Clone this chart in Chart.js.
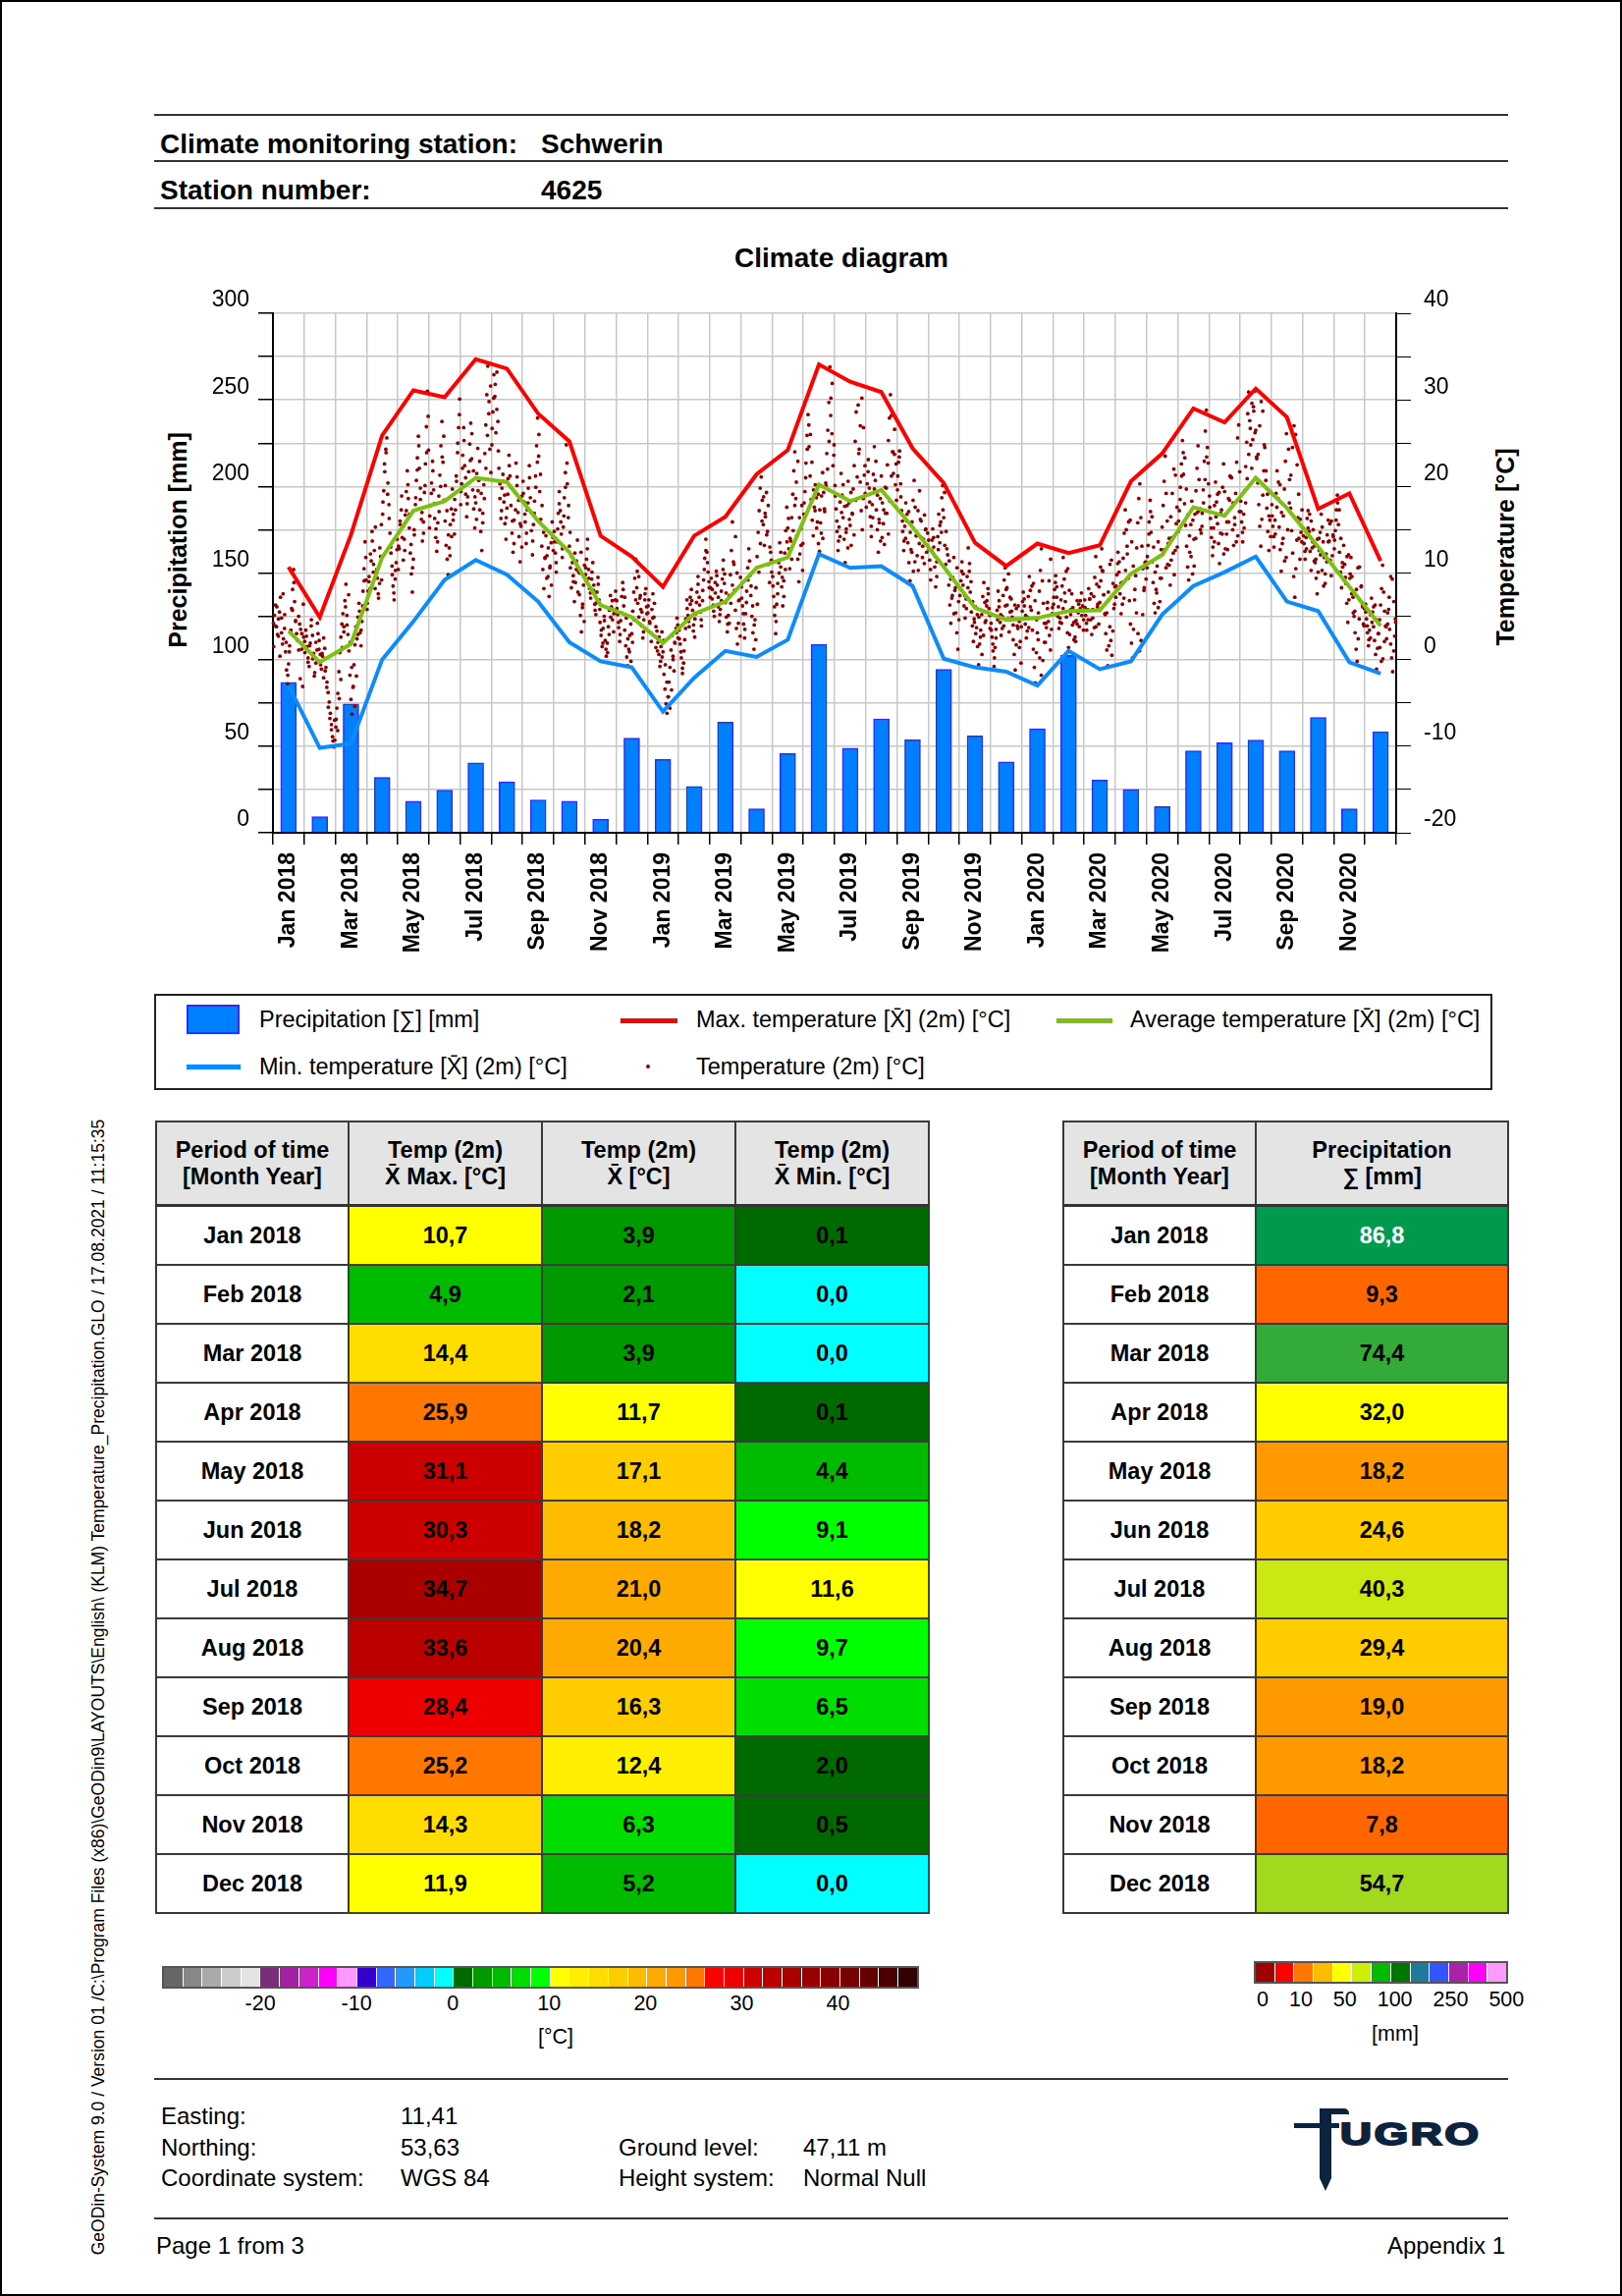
<!DOCTYPE html>
<html>
<head>
<meta charset="utf-8">
<title>Climate diagram - Schwerin</title>
<script src="https://cdn.jsdelivr.net/npm/chart.js@4.4.1/dist/chart.umd.min.js"></script>
<style>
  html, body { margin: 0; padding: 0; background: #fff; }
  body { width: 1652px; height: 2338px; position: relative; overflow: hidden;
         font-family: "Liberation Sans", Arial, sans-serif; color: #000; }
  .frame { position: absolute; left: 0; top: 0; width: 1648px; height: 2334px; border: 2px solid #000; }
  .hline { position: absolute; left: 157px; width: 1379px; height: 2px; background: #333; }
  .t { position: absolute; white-space: nowrap; line-height: 1; transform: translateY(-50%); }
  .tc { position: absolute; white-space: nowrap; line-height: 1; transform: translate(-50%, -50%); }
  .rot { position: absolute; white-space: nowrap; line-height: 1; transform: translate(-50%, -50%) rotate(-90deg); }
  .hdr { font-size: 28px; font-weight: bold; }
  .foot { font-size: 24px; }
  #chartBox { position: absolute; left: 150px; top: 230px; width: 1440px; height: 760px; }
  #legend { position: absolute; left: 157px; top: 1012px; width: 1359px; height: 94px; border: 2px solid #222; }
  .lg { font-size: 23.5px; }
  table.data { position: absolute; border-collapse: collapse; table-layout: fixed; }
  table.data th, table.data td { border: 2px solid #3a3a3a; text-align: center; font-weight: bold;
         font-size: 23.5px; padding: 0; }
  table.data th { background: #e4e4e4; height: 83px; line-height: 27px; border-bottom: 3px solid #333; }
  table.data td { height: 58px; }
  .bar { position: absolute; display: flex; border: 2px solid #555; }
  .bar div { height: 100%; border-right: 1px solid #fff; box-sizing: border-box; }
  .bar div:last-child { border-right: none; }
  .cb { font-size: 21.5px; }
</style>
</head>
<body>
<div class="frame"></div>

<div class="rot" style="left:101px; top:1718px; font-size:17.5px;">GeODin-System 9.0 / Version 01 /C:\Program Files (x86)\GeODin9\LAYOUTS\English\ (KLM) Temperature_Precipitation.GLO / 17.08.2021 / 11:15:35</div>

<div class="hline" style="top:116px"></div>
<div class="t hdr" style="left:163px; top:147px">Climate monitoring station:</div>
<div class="t hdr" style="left:551px; top:147px">Schwerin</div>
<div class="hline" style="top:163px"></div>
<div class="t hdr" style="left:163px; top:194px">Station number:</div>
<div class="t hdr" style="left:551px; top:194px">4625</div>
<div class="hline" style="top:211px"></div>

<div class="tc" style="left:857px; top:263px; font-size:28px; font-weight:bold;">Climate diagram</div>
<div class="rot" style="left:181px; top:550px; font-size:25px; font-weight:bold;">Precipitation [mm]</div>
<div class="rot" style="left:1533px; top:557px; font-size:25px; font-weight:bold;">Temperature [°C]</div>

<div id="chartBox"><canvas id="climate" width="1440" height="760"></canvas></div>

<div id="legend"></div>
<div style="position:absolute; left:190px; top:1023px; width:50px; height:26px; background:#0080ff; border:2px solid #2b2bff;"></div>
<div class="t lg" style="left:264px; top:1039px">Precipitation [∑] [mm]</div>
<div style="position:absolute; left:632px; top:1037px; width:58px; height:5px; background:#ff0000;"></div>
<div class="t lg" style="left:709px; top:1039px">Max. temperature [X̄] (2m) [°C]</div>
<div style="position:absolute; left:1076px; top:1037px; width:57px; height:5px; background:#7cc111;"></div>
<div class="t lg" style="left:1151px; top:1039px">Average temperature [X̄] (2m) [°C]</div>
<div style="position:absolute; left:190px; top:1084px; width:55px; height:5px; background:#0a8cff;"></div>
<div class="t lg" style="left:264px; top:1087px">Min. temperature [X̄] (2m) [°C]</div>
<div style="position:absolute; left:658px; top:1084px; width:4px; height:4px; border-radius:2px; background:#8b0000;"></div>
<div class="t lg" style="left:709px; top:1087px">Temperature (2m) [°C]</div>

<table class="data" id="tempTable" style="left:158px; top:1141px; width:787px;">
  <colgroup><col style="width:196px"><col style="width:197px"><col style="width:197px"><col style="width:197px"></colgroup>
  <thead><tr>
    <th>Period of time<br>[Month Year]</th>
    <th>Temp (2m)<br>X̄ Max. [°C]</th>
    <th>Temp (2m)<br>X̄ [°C]</th>
    <th>Temp (2m)<br>X̄ Min. [°C]</th>
  </tr></thead>
  <tbody></tbody>
</table>

<table class="data" id="precTable" style="left:1082px; top:1141px; width:453px;">
  <colgroup><col style="width:196px"><col style="width:257px"></colgroup>
  <thead><tr>
    <th>Period of time<br>[Month Year]</th>
    <th>Precipitation<br>∑ [mm]</th>
  </tr></thead>
  <tbody></tbody>
</table>

<div class="bar" id="tempBar" style="left:165px; top:2002px; width:767px; height:19px;"></div>
<div id="tempBarLabels"></div>
<div class="tc cb" style="left:566px; top:2075px">[°C]</div>

<div class="bar" id="precBar" style="left:1277px; top:1997px; width:255px; height:19px;"></div>
<div class="t cb" style="left:1280px; top:2037px; word-spacing:15px;">0 10 50 100 250 500</div>
<div class="tc cb" style="left:1421px; top:2072px">[mm]</div>

<div class="hline" style="top:2116px"></div>
<div class="t foot" style="left:164px; top:2155px">Easting:</div>
<div class="t foot" style="left:408px; top:2155px">11,41</div>
<div class="t foot" style="left:164px; top:2187px">Northing:</div>
<div class="t foot" style="left:408px; top:2187px">53,63</div>
<div class="t foot" style="left:164px; top:2218px">Coordinate system:</div>
<div class="t foot" style="left:408px; top:2218px">WGS 84</div>
<div class="t foot" style="left:630px; top:2187px">Ground level:</div>
<div class="t foot" style="left:818px; top:2187px">47,11 m</div>
<div class="t foot" style="left:630px; top:2218px">Height system:</div>
<div class="t foot" style="left:818px; top:2218px">Normal Null</div>

<div style="position:absolute; left:1318px; top:2147px; width:190px; height:86px;">
  <div style="position:absolute; left:26px; top:1px; width:12px; height:70px; background:#0c2340;"></div>
  <div style="position:absolute; left:26px; top:0; width:30px; height:6px; background:#0c2340; border-top-right-radius:5px;"></div>
  <div style="position:absolute; left:0; top:15px; width:46px; height:5px; background:#0c2340;"></div>
  <div style="position:absolute; left:26px; top:71px; width:0; height:0; border-left:6px solid transparent; border-right:6px solid transparent; border-top:13px solid #0c2340;"></div>
  <div style="position:absolute; left:47px; top:15px; font-size:32px; line-height:23px; height:24px; font-weight:bold; color:#0c2340; -webkit-text-stroke:2px #0c2340; transform-origin:0 0; transform:scaleX(1.38); letter-spacing:2px;">UGRO</div>
</div>

<div class="hline" style="top:2258px"></div>
<div class="t foot" style="left:159px; top:2287px">Page 1 from 3</div>
<div class="t foot" style="left:1533px; top:2287px; transform:translate(-100%,-50%)">Appendix 1</div>

<script>
// ---- monthly values ----
const months = [
  'Jan 2018', 'Feb 2018', 'Mar 2018', 'Apr 2018', 'May 2018', 'Jun 2018',
  'Jul 2018', 'Aug 2018', 'Sep 2018', 'Oct 2018', 'Nov 2018', 'Dec 2018',
  'Jan 2019', 'Feb 2019', 'Mar 2019', 'Apr 2019', 'May 2019', 'Jun 2019',
  'Jul 2019', 'Aug 2019', 'Sep 2019', 'Oct 2019', 'Nov 2019', 'Dec 2019',
  'Jan 2020', 'Feb 2020', 'Mar 2020', 'Apr 2020', 'May 2020', 'Jun 2020',
  'Jul 2020', 'Aug 2020', 'Sep 2020', 'Oct 2020', 'Nov 2020', 'Dec 2020'
];
const precipitation = [86.8, 9.3, 74.4, 32.0, 18.2, 24.6, 40.3, 29.4, 19.0, 18.2, 7.8, 54.7,
  42.4, 26.7, 63.9, 13.8, 45.8, 108.8, 48.8, 65.8, 53.7, 94.4, 56.0, 40.9,
  60.0, 102.5, 30.5, 25.0, 15.1, 47.3, 52.0, 53.5, 47.3, 66.6, 13.8, 58.3];
const tempMax = [10.7, 4.9, 14.4, 25.9, 31.1, 30.3, 34.7, 33.6, 28.4, 25.2, 14.3, 11.9,
  8.4, 14.3, 16.5, 21.4, 24.2, 34.1, 32.1, 30.9, 24.4, 20.4, 13.5, 10.8,
  13.4, 12.3, 13.2, 20.6, 23.8, 29.0, 27.4, 31.3, 28.0, 17.4, 19.2, 11.4];
const tempAvg = [3.3, -0.3, 1.8, 11.8, 17.2, 18.3, 21.0, 20.5, 16.0, 12.4, 6.3, 4.9,
  1.9, 5.3, 6.7, 10.6, 11.8, 20.2, 18.3, 19.6, 15.3, 10.7, 6.0, 4.6,
  4.8, 5.6, 5.7, 9.9, 12.1, 17.6, 16.6, 21.0, 17.5, 13.0, 8.4, 3.9];
const tempMin = [-3.0, -10.2, -9.7, 0.0, 4.4, 9.2, 11.5, 9.8, 6.7, 2.0, -0.2, -0.9,
  -6.0, -2.1, 1.0, 0.3, 2.3, 12.2, 10.6, 10.8, 8.5, 0.1, -0.9, -1.4,
  -3.0, 1.0, -1.1, -0.2, 5.2, 8.5, 10.1, 11.9, 6.7, 5.6, -0.3, -1.6];

// temperature readings, one string per month (estimated from the dot cloud)
const daily2018 = [
  '4.2 5.1 6.3 3.8 2.9 4.7 5.5 7.2 3.1 1.8 2.4 3.6 0.9 -1.2 -2.8 -0.5 1.6 3.3 5.9 8.1 10.4 6.7 4.4 3.0 2.2 5.0 4.1 3.5 1.2 -3.1 2.6',
  '2.1 3.4 1.5 0.2 -0.8 1.9 4.6 2.8 0.7 -1.5 -0.4 1.1 3.0 2.2 0.6 -1.1 0.4 2.5 1.3 -0.9 -2.6 -3.8 -4.9 -6.2 -7.5 -8.9 -10.1 -9.3',
  '-7.8 -5.6 -3.9 -1.4 0.8 2.6 4.1 5.3 3.2 6.8 8.7 5.1 2.9 1.0 -1.8 -4.6 -6.3 -3.2 -0.6 1.7 3.8 2.4 4.9 6.5 3.1 1.6 4.4 7.9 10.5 13.6 9.2',
  '5.8 7.9 9.6 8.2 11.4 13.7 10.1 12.6 15.3 10.0 9.4 7.1 8.8 11.9 9.2 16.8 19.5 21.7 24.3 25.6 20.4 17.9 14.6 12.3 10.8 8.5 6.9 9.3 11.2 13.9',
  '10.4 12.8 15.6 17.3 14.1 11.5 13.9 16.7 19.4 21.8 18.6 15.2 12.3 9.9 7.8 11.6 14.4 17.9 20.7 23.3 25.8 22.1 18.5 16.2 13.7 15.9 19.3 22.6 26.9 31.0 24.2',
  '15.2 17.8 20.4 22.9 19.6 16.3 14.1 12.5 15.8 18.9 21.3 24.7 27.5 22.8 18.4 16.0 13.2 11.6 9.8 12.9 15.6 17.4 19.7 16.8 14.5 17.3 20.6 23.9 26.8 30.1',
  '17.9 20.3 23.6 26.8 22.4 19.1 16.5 18.8 21.7 24.9 27.3 23.2 19.6 17.4 15.2 18.1 21.5 24.4 20.7 17.3 14.8 12.6 16.9 20.2 23.8 27.1 30.6 33.9 28.4 24.3 21.6',
  '24.8 28.6 32.9 30.4 26.2 33.2 27.5 22.1 18.6 16.3 19.8 21.4 18.2 15.7 13.9 17.5 20.9 23.6 21.2 17.8 14.6 12.4 16.1 19.3 22.7 20.1 17.0 14.2 11.3 15.4 18.9',
  '20.6 18.2 15.9 13.4 17.3 19.8 22.4 18.7 14.9 12.1 15.6 18.3 21.2 24.7 27.9 23.5 19.4 16.2 13.1 10.4 8.2 11.7 14.3 12.0 9.6 7.3 10.8 13.5 15.9 12.6',
  '14.8 12.3 10.1 13.6 16.9 19.4 17.2 14.5 11.8 15.3 18.7 21.6 24.8 20.3 16.4 13.1 10.6 8.3 11.2 9.0 6.7 8.9 11.4 13.8 10.2 7.5 5.1 3.2 6.0 8.6 10.9',
  '9.8 11.6 13.9 10.4 8.2 7.1 9.3 11.2 8.6 6.4 5.2 7.8 9.5 6.9 4.3 2.8 1.5 3.6 5.0 2.2 0.4 1.9 3.8 5.7 7.4 6.1 4.6 3.2 5.4 7.9',
  '6.8 5.2 3.7 2.1 4.5 7.3 8.9 6.2 3.4 1.6 0.3 -0.7 1.2 2.8 4.1 3.0 5.6 7.8 9.4 11.6 8.3 6.5 4.9 7.1 5.8 3.9 2.5 4.6 6.9 8.2 5.3'
];
const daily2019 = [
  '5.4 6.9 4.2 3.1 5.8 7.6 4.9 2.7 1.4 3.3 2.0 0.6 -0.8 1.5 3.2 0.9 -1.7 -3.4 -5.1 -6.2 -4.3 -2.6 -0.9 1.1 2.8 0.4 -1.3 1.9 3.6 4.8 2.5',
  '3.4 1.8 0.2 -1.6 -0.4 2.3 4.7 6.9 5.1 3.8 6.4 8.1 5.7 4.0 2.6 5.3 7.8 9.6 7.2 5.5 3.9 6.8 9.2 11.7 13.9 12.4 10.1 8.3',
  '7.2 9.4 8.1 6.3 5.0 7.7 10.2 8.6 6.1 4.4 5.8 7.9 9.3 11.5 8.8 6.6 4.9 3.2 5.1 7.4 9.8 12.6 15.9 11.3 8.0 5.7 3.6 1.8 4.2 6.9 9.5',
  '8.4 6.2 4.1 2.5 5.3 7.9 10.6 12.8 9.7 7.4 5.0 3.1 1.2 4.6 8.3 11.9 14.7 17.2 19.8 21.1 18.4 15.6 13.2 16.5 19.3 14.8 11.0 8.9 12.4 10.1',
  '9.6 7.3 5.1 3.0 6.4 8.8 11.2 13.5 10.7 8.4 6.2 9.1 12.3 14.9 17.6 15.2 12.8 10.5 13.7 16.4 19.1 21.8 24.0 18.6 14.3 11.6 9.0 12.2 15.1 17.8 13.4',
  '16.8 19.4 22.7 25.9 28.3 24.6 21.2 18.5 16.1 14.3 17.6 20.2 18.7 15.9 13.4 12.5 15.8 18.9 21.6 19.3 17.1 20.4 23.8 26.5 29.7 33.8 30.2 26.1 22.4 24.8',
  '20.1 17.4 14.8 12.6 15.3 18.2 21.5 19.0 16.4 13.9 11.2 14.7 17.8 20.6 18.1 15.5 13.2 16.9 19.7 22.4 25.2 28.6 31.8 29.4 24.3 20.5 17.2 15.0 18.6 21.3 19.2',
  '17.6 20.3 23.1 19.8 16.5 14.2 17.9 21.4 24.6 20.7 17.3 15.0 12.4 15.8 18.6 21.2 18.1 15.7 13.3 16.9 19.8 22.5 25.3 27.9 30.6 28.2 24.0 21.5 23.7 20.2 18.4',
  '19.6 22.8 24.1 20.3 17.2 14.8 12.6 15.4 18.1 16.0 13.5 11.2 9.1 12.7 15.9 18.4 20.7 17.6 14.3 12.0 10.3 13.4 16.2 14.1 11.8 13.9 16.7 15.0 12.4 14.6',
  '13.8 11.5 9.2 12.6 15.1 13.0 10.7 8.4 11.3 14.2 16.8 13.5 15.9 18.7 20.1 16.4 13.2 11.0 12.8 10.1 8.6 6.3 4.2 7.1 9.5 11.8 8.0 5.4 3.1 1.2 4.6',
  '7.4 9.1 11.3 8.6 6.2 4.8 7.0 9.6 12.9 10.2 7.8 5.5 3.9 2.1 4.3 6.1 3.7 1.5 -0.6 1.8 3.4 5.2 7.3 8.9 6.6 4.5 6.8 8.2 5.9 3.6',
  '4.2 2.6 1.0 -0.8 1.4 3.5 5.7 7.9 6.1 4.3 2.8 5.0 7.4 9.2 10.6 8.1 6.3 4.7 3.2 5.5 7.0 4.9 2.3 0.6 -1.2 1.7 3.9 6.2 4.4 2.1 3.8'
];
const daily2020 = [
  '5.6 7.8 6.2 4.1 2.5 4.9 7.3 9.6 8.0 5.7 3.4 1.2 -0.9 -2.7 0.8 3.1 5.4 7.9 10.3 12.8 9.1 6.5 4.2 2.0 3.7 5.9 4.4 2.8 1.1 3.5 6.0',
  '6.4 8.1 9.7 7.2 5.0 3.6 4.8 6.9 8.5 11.8 9.3 6.7 4.9 3.1 1.4 2.9 5.2 7.6 6.0 4.3 2.6 4.5 6.8 5.4 3.8 5.9 7.7 6.2 4.6',
  '6.9 5.1 3.4 5.8 8.2 7.0 4.6 2.9 4.8 7.3 9.5 11.9 8.7 6.4 4.1 6.6 9.1 12.8 10.2 7.5 5.3 3.0 1.1 -0.7 1.6 3.8 2.2 0.5 3.3 5.9 8.4',
  '7.2 9.8 12.4 10.1 7.6 5.3 8.9 11.7 14.6 17.3 15.0 12.2 9.4 6.8 4.1 1.9 0.2 3.5 6.9 9.7 12.9 15.8 18.6 20.3 16.4 13.1 10.5 8.0 11.2 9.3',
  '10.6 13.2 15.9 18.4 14.7 11.3 8.9 6.5 5.4 8.1 10.8 13.6 11.9 9.4 12.7 15.3 17.8 20.6 23.5 19.2 16.0 13.4 10.9 8.6 11.5 14.1 12.3 9.8 12.6 15.7 13.0',
  '14.8 17.2 19.9 22.6 25.3 21.4 18.0 15.5 13.1 10.7 9.2 12.4 15.6 18.3 16.1 13.9 16.8 19.5 22.1 24.7 20.8 17.4 14.6 16.9 19.6 22.9 26.4 28.8 24.5 20.3',
  '18.9 16.3 14.1 12.0 15.2 17.8 20.5 18.2 15.7 13.4 11.1 14.6 17.3 19.9 22.6 19.4 16.8 14.5 12.7 15.9 18.4 21.1 17.6 15.0 13.2 16.4 19.2 22.8 25.6 27.1 21.7',
  '18.3 15.9 13.6 16.8 19.5 22.3 25.1 28.4 30.9 27.6 24.8 22.1 25.4 28.7 31.0 26.5 23.2 20.4 17.9 15.4 13.1 16.2 19.0 21.8 24.5 20.7 17.5 14.8 12.6 16.1 19.3',
  '17.9 15.4 13.0 16.1 19.2 21.8 18.6 15.3 12.7 10.2 13.4 16.6 19.7 22.9 26.1 27.8 24.3 20.8 17.5 14.9 12.3 9.6 7.2 10.5 13.8 16.4 14.0 11.6 14.7 17.3',
  '15.2 13.4 11.6 14.1 16.3 17.2 14.8 12.5 10.3 12.9 15.0 13.1 11.2 9.4 7.6 10.1 12.6 14.7 16.8 15.3 13.6 11.8 9.9 12.2 14.4 16.1 13.7 11.5 9.7 12.0 14.2',
  '12.8 14.9 17.3 19.0 15.6 12.4 10.1 8.3 10.7 13.2 11.0 8.8 6.5 4.3 6.9 9.4 11.8 9.6 7.2 5.0 3.1 1.2 -0.2 2.4 4.7 6.8 8.5 6.3 4.1 5.9',
  '6.4 4.7 3.1 1.6 3.4 5.2 7.1 5.5 3.8 2.2 0.6 -1.1 1.3 3.0 4.6 6.3 8.2 10.9 7.8 5.6 3.9 2.4 4.1 5.8 3.5 1.8 0.2 -1.4 1.0 2.7 4.3'
];
// further readings of the same months (second dot row of the cloud)
const extra2018 = [
  '1.5 3.9 6.1 2.7 0.4 4.8 7.6 5.2 2.0 -1.8 0.9 3.4 5.7 8.9 4.5 2.3 1.1 -2.2 3.0 6.4',
  '0.8 2.7 -0.3 1.6 3.9 0.1 -1.9 2.0 4.2 1.2 -0.6 0.7 -2.1 -1.3 -3.2 -5.5 -6.8 -8.1 -9.4 -7.0',
  '-6.9 -8.2 -4.5 -2.3 1.4 3.8 6.1 4.0 7.5 2.0 -0.9 -3.1 -5.4 -1.9 2.9 5.6 3.4 6.2 9.1 11.8',
  '6.5 9.0 12.2 14.8 11.0 8.2 10.4 7.6 12.9 15.6 18.2 22.6 23.9 19.1 16.3 13.0 9.8 7.7 10.3 12.7',
  '13.1 16.0 18.9 15.4 12.6 17.2 20.2 16.8 13.3 10.6 15.0 18.7 21.9 24.7 19.8 17.0 14.6 20.1 23.9 28.1',
  '16.6 19.2 21.8 18.0 15.1 13.6 17.1 20.0 23.4 25.8 20.1 17.2 14.4 12.0 14.2 16.1 18.5 21.2 25.0 28.3',
  '19.4 22.1 25.3 21.0 18.0 20.4 23.0 26.1 21.8 18.8 16.2 19.5 22.9 19.2 15.8 18.6 22.1 25.9 29.8 31.6',
  '26.7 30.2 31.8 28.9 24.1 20.3 17.2 20.6 19.0 16.4 19.1 22.4 19.9 16.0 13.4 17.3 21.1 18.4 15.7 13.0',
  '19.2 16.8 14.6 18.1 21.0 17.0 13.7 16.9 19.9 22.8 26.0 21.4 17.8 14.7 11.8 9.4 12.9 10.6 8.6 14.1',
  '13.6 11.2 15.1 18.0 15.9 12.8 16.6 19.9 22.7 17.8 14.7 11.9 9.7 12.3 10.4 7.8 10.0 12.4 6.4 4.4',
  '10.6 12.8 9.4 7.7 10.1 8.0 5.7 6.6 8.7 5.8 3.4 1.9 4.5 1.2 0.8 2.9 4.9 6.8 5.3 6.9',
  '5.9 4.3 2.9 5.4 8.1 7.2 4.8 2.4 0.9 -0.2 2.0 4.6 6.9 10.2 9.6 7.4 5.5 3.2 7.6 6.1'
];
const extra2019 = [
  '6.2 4.4 2.1 4.8 6.5 3.8 1.0 2.6 -0.2 0.3 2.2 -0.6 -2.6 -4.3 -5.6 -3.5 0.0 2.0 3.1 4.0',
  '2.4 0.9 -1.0 1.0 3.6 5.9 4.4 7.2 6.8 3.3 4.7 6.6 8.7 6.3 4.6 8.0 10.4 12.6 11.2 9.0',
  '8.3 7.0 5.6 8.9 9.7 7.2 5.2 6.8 10.4 9.9 7.7 4.1 4.2 6.5 8.6 11.0 14.2 10.0 6.8 2.7',
  '7.1 5.3 3.5 6.6 9.2 11.4 8.5 6.2 4.0 2.3 6.4 10.1 13.4 16.0 18.8 16.9 14.4 17.8 13.0 11.5',
  '8.5 6.1 4.4 7.6 10.0 12.4 9.5 7.3 10.4 13.6 16.3 14.0 11.6 14.9 17.8 20.5 22.9 16.4 13.2 10.3',
  '18.1 21.0 24.3 27.1 26.0 22.8 19.6 17.2 15.2 19.1 17.3 14.6 14.0 17.4 20.1 22.0 25.2 28.2 31.9 23.6',
  '18.9 16.0 13.7 14.2 17.0 20.2 17.7 15.1 12.9 16.2 19.3 16.8 14.4 18.4 21.1 23.8 27.0 30.2 26.8 22.4',
  '19.0 21.7 18.2 15.4 16.4 19.7 22.9 19.0 16.2 13.7 14.1 17.3 19.9 16.9 14.5 18.3 21.2 24.0 26.6 22.6',
  '21.2 23.4 18.8 16.0 13.7 14.0 16.8 17.1 14.7 12.4 10.2 11.3 14.3 17.2 19.5 16.0 13.1 11.1 15.1 13.2',
  '12.7 10.4 13.8 14.1 11.9 9.6 12.7 15.5 14.7 17.3 19.3 14.8 12.1 11.4 9.3 7.4 5.3 8.3 10.6 6.7',
  '8.2 10.2 9.9 7.4 5.9 8.3 11.1 9.0 6.7 4.7 3.0 5.2 4.9 2.6 0.6 2.8 4.3 6.2 7.6 5.1',
  '3.4 1.8 0.2 2.5 4.6 6.8 5.2 3.6 3.9 6.2 8.3 9.9 7.2 5.6 4.0 6.3 5.9 3.6 1.4 -0.4'
];
const extra2020 = [
  '6.7 7.0 5.1 3.3 3.7 6.1 8.5 8.8 6.8 4.6 2.3 0.2 -1.8 -0.1 2.0 4.2 6.6 9.1 11.6 5.3',
  '7.2 8.9 8.4 6.1 4.3 4.2 5.9 7.7 10.2 10.5 8.0 5.8 4.0 2.3 2.1 4.1 6.4 6.8 5.1 3.4',
  '6.0 4.2 4.6 7.0 7.6 5.8 3.7 3.8 6.1 8.4 10.7 10.3 7.5 5.2 5.4 7.8 11.0 11.5 8.8 6.4',
  '8.5 11.1 11.3 8.8 6.4 7.1 10.3 13.1 15.9 16.1 13.6 10.8 8.1 5.4 3.0 1.0 2.2 5.2 8.3 11.3',
  '11.9 14.5 17.1 16.5 13.0 10.1 7.7 6.0 6.7 9.4 12.2 12.7 10.6 11.0 14.0 16.5 19.2 22.0 21.3 17.6',
  '16.0 18.5 21.2 23.9 23.3 19.7 16.7 14.3 11.9 9.9 10.8 14.0 17.0 17.2 15.0 15.4 18.1 20.8 23.4 22.7',
  '17.6 15.2 13.0 13.6 16.5 19.1 19.3 16.9 14.5 12.2 12.8 15.9 18.6 21.2 21.0 18.1 15.6 13.6 14.3 17.1',
  '17.1 14.7 15.2 18.1 20.9 23.7 26.7 29.6 29.2 26.2 23.4 23.7 27.0 29.8 28.7 24.8 21.8 19.1 16.6 14.2',
  '16.6 14.2 14.5 17.6 20.5 20.2 17.0 14.0 11.4 11.8 15.0 18.1 21.3 24.5 27.0 26.0 22.5 19.1 16.2 13.6',
  '14.3 12.5 12.8 15.2 16.8 16.0 13.6 11.4 11.6 13.9 14.0 12.1 10.3 8.5 8.8 11.3 13.6 15.7 16.0 14.4',
  '13.8 16.1 18.1 17.3 14.0 11.2 9.2 9.5 11.9 12.1 9.9 7.6 5.4 5.6 8.1 10.6 10.7 8.4 6.1 3.9',
  '5.5 3.9 2.3 2.5 4.3 6.1 6.3 4.6 3.0 1.4 -0.2 0.1 2.1 3.8 5.4 7.2 9.6 9.3 6.7 4.7'
];

// ---- table values (first year) ----
const tableMonths = months.slice(0, 12);
const tableMax = [10.7, 4.9, 14.4, 25.9, 31.1, 30.3, 34.7, 33.6, 28.4, 25.2, 14.3, 11.9];
const tableAvg = [3.9, 2.1, 3.9, 11.7, 17.1, 18.2, 21.0, 20.4, 16.3, 12.4, 6.3, 5.2];
const tableMin = [0.1, 0.0, 0.0, 0.1, 4.4, 9.1, 11.6, 9.7, 6.5, 2.0, 0.5, 0.0];
const tablePrec = [86.8, 9.3, 74.4, 32.0, 18.2, 24.6, 40.3, 29.4, 19.0, 18.2, 7.8, 54.7];

// ---- colour scales ----
const tempScaleStart = -30;   // °C, each class 2 °C wide
const tempScaleStep = 2;
const tempScaleColors = [
  '#666666', '#888888', '#aaaaaa', '#cccccc', '#e4e4e4',
  '#7b2d7b', '#a421a4', '#cc22cc', '#ff00ff', '#ff99ff',
  '#3300cc', '#3366ff', '#2299ff', '#00ccff', '#00ffff',
  '#006a00', '#009900', '#00bb00', '#00dd00', '#00ff00',
  '#ffff00', '#ffee00', '#ffdd00', '#ffcc00', '#ffbb00', '#ffaa00', '#ff9900', '#ff7700',
  '#ff0000', '#ee0000', '#cc0000', '#bb0000', '#aa0000', '#990000', '#880000', '#770000',
  '#660000', '#4a0000', '#330000'
];
const tempScaleTicks = [-20, -10, 0, 10, 20, 30, 40];
const precScaleColors = ['#a00000', '#ff0000', '#ff7700', '#ffbb00', '#ffff00', '#ccee00', '#00bb00',
  '#007700', '#1f7a99', '#3355ff', '#aa22aa', '#ff00ff', '#ff99ff'];
const precCellLimits = [10, 20, 30, 40, 50, 60, 70, 80, 90, 1000];
const precCellColors = ['#ff6600', '#ff9900', '#ffcc00', '#ffff00', '#cce812', '#a2d81e', '#66c02a', '#33aa3a', '#009a4e', '#007a40'];

const tempColor = (v) => {
  let k = Math.ceil((v - tempScaleStart) / tempScaleStep) - 1;
  k = Math.max(0, Math.min(tempScaleColors.length - 1, k));
  return tempScaleColors[k];
};
const precColor = (v) => precCellColors[precCellLimits.findIndex(l => v < l)];
const fmt = (v) => v.toFixed(1).replace('.', ',');

// ---- tables ----
const tempBody = document.querySelector('#tempTable tbody');
tableMonths.forEach((m, i) => {
  const tr = document.createElement('tr');
  tr.innerHTML = '<td>' + m + '</td>' +
    '<td style="background:' + tempColor(tableMax[i]) + '">' + fmt(tableMax[i]) + '</td>' +
    '<td style="background:' + tempColor(tableAvg[i]) + '">' + fmt(tableAvg[i]) + '</td>' +
    '<td style="background:' + tempColor(tableMin[i]) + '">' + fmt(tableMin[i]) + '</td>';
  tempBody.appendChild(tr);
});
const precBody = document.querySelector('#precTable tbody');
tableMonths.forEach((m, i) => {
  const v = tablePrec[i];
  const tr = document.createElement('tr');
  tr.innerHTML = '<td>' + m + '</td>' +
    '<td style="background:' + precColor(v) + ';color:' + (v >= 80 ? '#fff' : '#000') + '">' + fmt(v) + '</td>';
  precBody.appendChild(tr);
});

// ---- colour bars ----
const tempBar = document.getElementById('tempBar');
tempScaleColors.forEach(c => {
  const d = document.createElement('div');
  d.style.background = c;
  d.style.flex = '1';
  tempBar.appendChild(d);
});
const precBar = document.getElementById('precBar');
precScaleColors.forEach(c => {
  const d = document.createElement('div');
  d.style.background = c;
  d.style.flex = '1';
  precBar.appendChild(d);
});
const barLeft = 167, barWidth = 765;
const classWidth = barWidth / tempScaleColors.length;
const tickBox = document.getElementById('tempBarLabels');
tempScaleTicks.forEach(t => {
  const d = document.createElement('div');
  d.className = 'tc cb';
  d.style.left = (barLeft + (t - tempScaleStart) / tempScaleStep * classWidth) + 'px';
  d.style.top = '2041px';
  d.textContent = t;
  tickBox.appendChild(d);
});

// ---- chart ----
Chart.defaults.font.family = "'Liberation Sans', Arial, sans-serif";
Chart.defaults.color = '#000';

// readings placed inside their month band (month index m spans m-0.5 .. m+0.5)
const dailyPoints = [];
const addReadings = (list) => {
  list.forEach((s, m) => {
    const vals = s.split(' ').map(Number);
    vals.forEach((v, k) => {
      dailyPoints.push({ x: m - 0.5 + (k + 0.5) / vals.length, y: v });
    });
  });
};
addReadings([daily2018, daily2019, daily2020].flat());
addReadings([extra2018, extra2019, extra2020].flat());
dailyPoints.sort((a, b) => a.x - b.x);

const gridGrey = '#c8c8c8';

new Chart(document.getElementById('climate'), {
  type: 'bar',
  data: {
    labels: months,
    datasets: [
      {
        type: 'line', label: 'Max. temperature', data: tempMax,
        xAxisID: 'x', yAxisID: 'yT', borderColor: '#ff0000', borderWidth: 4,
        pointRadius: 0, tension: 0, order: 0
      },
      {
        type: 'line', label: 'Average temperature', data: tempAvg,
        xAxisID: 'x', yAxisID: 'yT', borderColor: '#7cc111', borderWidth: 4,
        pointRadius: 0, tension: 0, order: 0
      },
      {
        type: 'line', label: 'Min. temperature', data: tempMin,
        xAxisID: 'x', yAxisID: 'yT', borderColor: '#0a8cff', borderWidth: 4,
        pointRadius: 0, tension: 0, order: 0
      },
      {
        type: 'scatter', label: 'Temperature (2m)', data: dailyPoints, parsing: false,
        xAxisID: 'x', yAxisID: 'yT', pointRadius: 1.9, pointBorderWidth: 0,
        pointBackgroundColor: '#8b0000', order: 1
      },
      {
        type: 'bar', label: 'Precipitation', data: precipitation,
        xAxisID: 'x', yAxisID: 'yP', backgroundColor: '#0080ff', borderColor: '#2b2bff',
        borderWidth: 1.5, barThickness: 16, order: 2
      }
    ]
  },
  options: {
    responsive: false,
    animation: false,
    layout: { padding: { top: 89, left: 0, right: 0, bottom: 0 } },
    plugins: { legend: { display: false }, tooltip: { enabled: false } },
    scales: {
      x: {
        type: 'category', position: 'bottom', offset: true,
        grid: { color: gridGrey, lineWidth: 1.5, offset: true, tickColor: '#000', tickLength: 12 },
        border: { color: '#000', width: 2 },
        ticks: {
          autoSkip: false, maxRotation: 90, minRotation: 90, padding: 8,
          font: { size: 23, weight: 'bold' },
          callback: function (value, index) { return index % 2 === 0 ? this.getLabelForValue(value) : ''; }
        },
        afterFit: (s) => { s.height = 142; }
      },
      yP: {
        type: 'linear', position: 'left', min: 0, max: 300,
        grid: { color: gridGrey, lineWidth: 1.5, tickColor: '#000', tickLength: 15 },
        border: { color: '#000', width: 2 },
        ticks: {
          stepSize: 25, padding: 9, labelOffset: -13, font: { size: 23 },
          callback: (v) => (v % 50 === 0 ? v : '')
        },
        afterFit: (s) => { s.width = 128; }
      },
      yT: {
        type: 'linear', position: 'right', min: -20, max: 40,
        grid: { drawOnChartArea: false, tickColor: '#000', tickLength: 15 },
        border: { color: '#000', width: 2 },
        ticks: {
          stepSize: 5, padding: 13, labelOffset: -13, font: { size: 23 },
          callback: (v) => (v % 10 === 0 ? v : '')
        },
        afterFit: (s) => { s.width = 168; }
      }
    }
  }
});
</script>
</body>
</html>
